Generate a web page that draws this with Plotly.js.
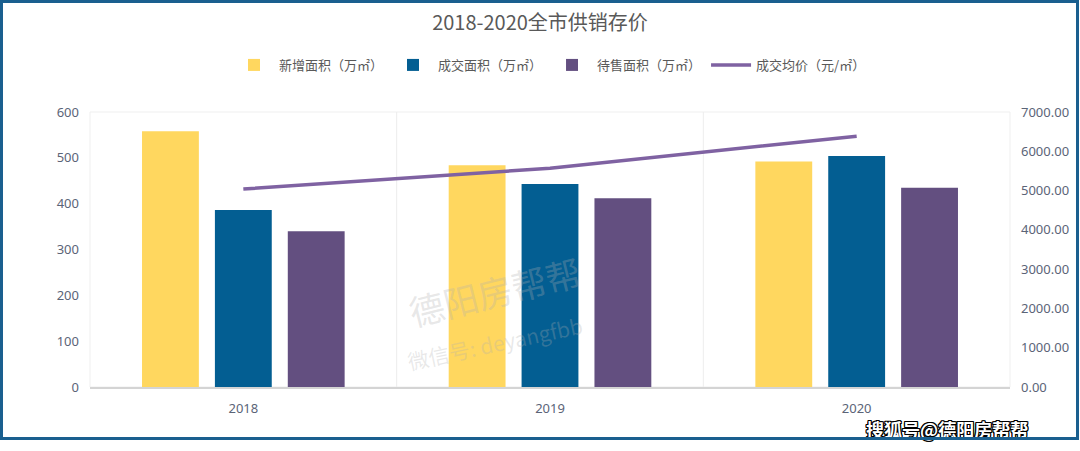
<!DOCTYPE html>
<html>
<head>
<meta charset="utf-8">
<script src="https://cdn.plot.ly/plotly-3.0.1.min.js"></script>
<style>
html,body{margin:0;padding:0;background:#fff;}
#wrap{position:relative;width:1080px;height:451px;}
#chart{width:1080px;height:451px;}
#frame{position:absolute;left:0;top:0;width:1073px;height:434px;border:3px solid #1a5f8f;pointer-events:none;}
</style>
</head>
<body>
<div id="wrap"><div id="chart"></div><div id="frame"></div></div>
<script>
const years = ['2018', '2019', '2020'];
const newArea = [558, 484, 492];
const soldArea = [386, 443, 504];
const stockArea = [340, 412, 435];
const avgPrice = [5040, 5570, 6385];
const seriesNames = ['新增面积（万㎡）', '成交面积（万㎡）', '待售面积（万㎡）', '成交均价（元/㎡）'];
const leftTicks = [0, 100, 200, 300, 400, 500, 600];
const rightTicks = [0, 1000, 2000, 3000, 4000, 5000, 6000, 7000];

const tickFont = {family: 'Noto Sans, Open Sans, sans-serif', size: 13, color: '#5b6477'};

const traces = [
  {type: 'bar', x: years, y: newArea, name: seriesNames[0], marker: {color: '#ffd75f'}},
  {type: 'bar', x: years, y: soldArea, name: seriesNames[1], marker: {color: '#035e92'}},
  {type: 'bar', x: years, y: stockArea, name: seriesNames[2], marker: {color: '#634f80'}},
  {type: 'scatter', mode: 'lines', x: years, y: avgPrice, name: seriesNames[3], yaxis: 'y2',
   line: {color: '#7f62a2', width: 3.5}}
];

const layout = {
  width: 1080, height: 451,
  margin: {l: 90, r: 70, t: 112, b: 64},
  paper_bgcolor: '#ffffff', plot_bgcolor: '#ffffff',
  title: {text: '2018-2020全市供销存价', x: 0.5, xanchor: 'center', y: 0.948, yanchor: 'middle',
          font: {family: 'Noto Sans CJK SC, sans-serif', size: 20, color: '#595959'}},
  showlegend: true,
  legend: {orientation: 'h', x: 0.5, xanchor: 'center', y: 1.171, yanchor: 'middle',
           font: {family: 'Noto Sans CJK SC, sans-serif', size: 13, color: '#595959'},
           traceorder: 'normal', itemwidth: 40},
  barmode: 'group', bargap: 0.287, bargroupgap: 0.22,
  xaxis: {type: 'category', showgrid: false, zeroline: false, showline: true,
          linecolor: '#d4d4d4', linewidth: 2, ticks: '', tickfont: tickFont, ticklabelstandoff: 8},
  yaxis: {range: [0, 600], tickvals: leftTicks, showgrid: false, zeroline: false, showline: false,
          tickfont: tickFont, ticklabelstandoff: 10},
  yaxis2: {range: [0, 7000], tickvals: rightTicks, tickformat: '.2f', overlaying: 'y', side: 'right',
           showgrid: false, zeroline: false, showline: false, tickfont: tickFont, ticklabelstandoff: 10},
  shapes: [
    {type: 'rect', xref: 'paper', yref: 'paper', x0: 0, x1: 1, y0: 0, y1: 1,
     line: {color: '#efefef', width: 1}, layer: 'below'},
    {type: 'line', xref: 'x', yref: 'paper', x0: 0.5, x1: 0.5, y0: 0, y1: 1,
     line: {color: '#ededed', width: 1}, layer: 'below'},
    {type: 'line', xref: 'x', yref: 'paper', x0: 1.5, x1: 1.5, y0: 0, y1: 1,
     line: {color: '#ededed', width: 1}, layer: 'below'}
  ],
  annotations: [
    {text: '德阳房帮帮', xref: 'paper', yref: 'paper', x: 0.44, y: 0.175, showarrow: false, textangle: -14,
     font: {family: 'Noto Sans CJK SC, sans-serif', size: 35, color: 'rgba(175,175,175,0.3)'}},
    {text: '微信号: deyangfbb', xref: 'paper', yref: 'paper', x: 0.44, y: 0.03, showarrow: false, textangle: -12,
     font: {family: 'Noto Sans CJK SC, sans-serif', size: 21, color: 'rgba(175,175,175,0.28)'}},
    {text: '搜狐号@德阳房帮帮', xref: 'paper', yref: 'paper', x: 1.022, y: -0.153, xanchor: 'right', yanchor: 'middle',
     showarrow: false,
     font: {family: 'Noto Sans CJK SC, sans-serif', size: 18, weight: 700, color: '#ffffff',
            shadow: '1px 1px 0 #000, -1px -1px 0 #000, 1px -1px 0 #000, -1px 1px 0 #000, 0 1px 0 #000, 0 -1px 0 #000, 1px 0 0 #000, -1px 0 0 #000'}}
  ]
};

Plotly.newPlot('chart', traces, layout, {staticPlot: true, displayModeBar: false});
</script>
</body>
</html>
